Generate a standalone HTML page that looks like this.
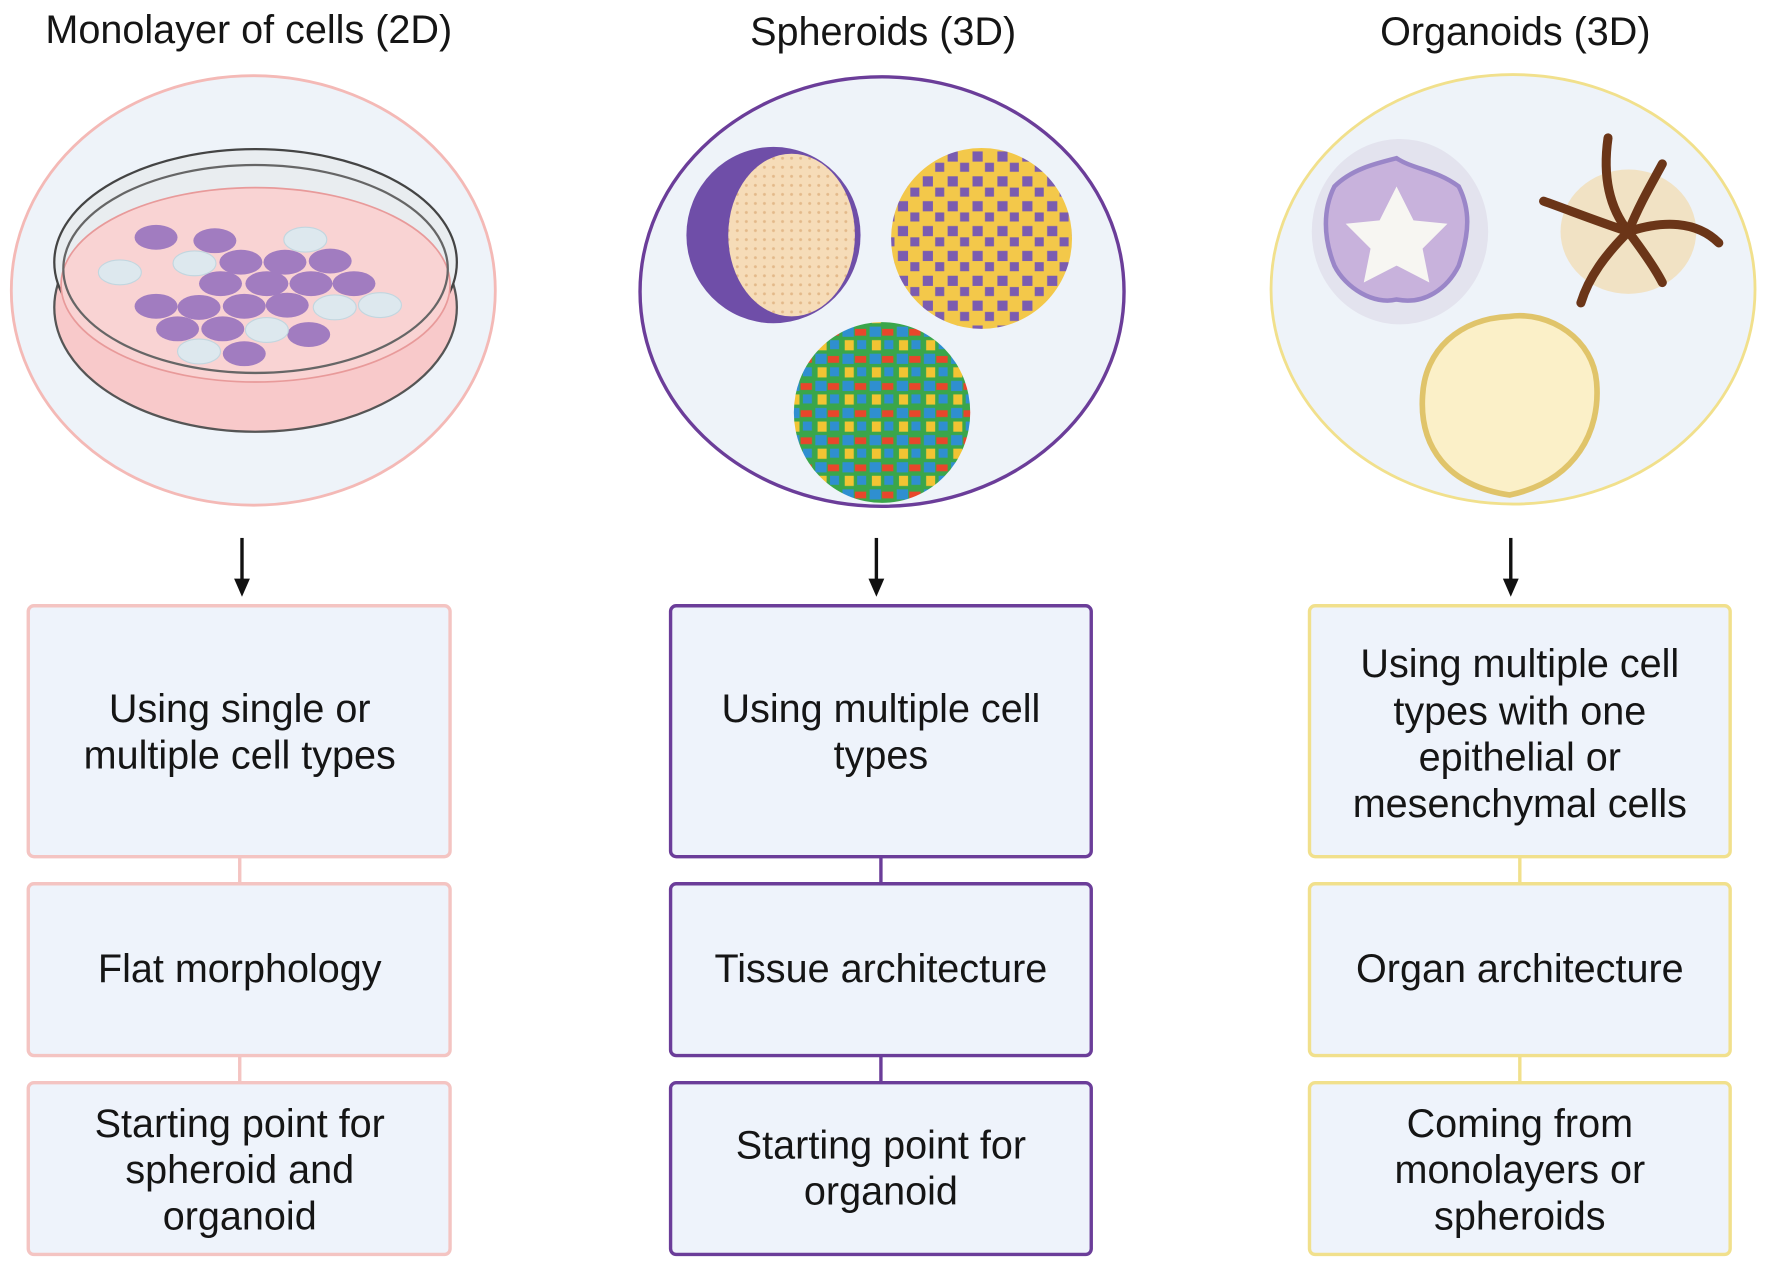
<!DOCTYPE html>
<html><head><meta charset="utf-8"><style>
html,body{margin:0;padding:0;background:#fff;}
svg{display:block;}
text{font-family:"Liberation Sans",sans-serif;fill:#151515;}
</style></head><body>
<svg width="1772" height="1268" viewBox="0 0 1567 1122" preserveAspectRatio="none" xmlns="http://www.w3.org/2000/svg">
<defs>
<pattern id="dots" width="8" height="8" patternUnits="userSpaceOnUse"><rect width="8" height="8" fill="#f6dcb8"/><circle cx="4" cy="4" r="1.3" fill="#e3b98a"/></pattern>
<pattern id="yp" width="22" height="22" patternUnits="userSpaceOnUse"><rect width="22" height="22" fill="#f3c84a"/><rect x="2" y="2" width="9" height="9" fill="#7b5cb0"/><rect x="13" y="12" width="8" height="8" fill="#7b5cb0"/></pattern>
<pattern id="mc" width="24" height="24" patternUnits="userSpaceOnUse"><rect width="24" height="24" fill="#3aa64a"/><rect x="1" y="1" width="10" height="9" fill="#2f8fd0"/><rect x="12" y="3" width="10" height="6" fill="#e8462b"/><rect x="3" y="13" width="8" height="9" fill="#f2c433"/><rect x="14" y="13" width="8" height="8" fill="#2f8fd0"/></pattern>
</defs>

<g font-size="35" text-anchor="middle">
<text x="220" y="38">Monolayer of cells (2D)</text>
<text x="781" y="40">Spheroids (3D)</text>
<text x="1340" y="40">Organoids (3D)</text>
</g>

<!-- Left circle -->
<ellipse cx="224" cy="257" rx="214" ry="190" fill="#eef3f9" stroke="#f4b9b6" stroke-width="2.5"/>
<ellipse cx="226" cy="272" rx="178" ry="110" fill="#f8c9ca" stroke="#555" stroke-width="2"/>
<ellipse cx="226" cy="232" rx="178" ry="100" fill="#e9edf0" stroke="#444" stroke-width="2"/>
<ellipse cx="226" cy="252" rx="172" ry="86" fill="#f9d3d3" stroke="#e89a9a" stroke-width="1.5"/>
<ellipse cx="226" cy="238" rx="170" ry="92" fill="none" stroke="#666" stroke-width="2"/>
<g fill="#a17cc0">
<ellipse cx="138" cy="210" rx="19" ry="11"/><ellipse cx="190" cy="213" rx="19" ry="11"/><ellipse cx="213" cy="232" rx="19" ry="11"/><ellipse cx="252" cy="232" rx="19" ry="11"/><ellipse cx="292" cy="231" rx="19" ry="11"/><ellipse cx="195" cy="251" rx="19" ry="11"/><ellipse cx="236" cy="251" rx="19" ry="11"/><ellipse cx="275" cy="251" rx="19" ry="11"/><ellipse cx="313" cy="251" rx="19" ry="11"/><ellipse cx="138" cy="271" rx="19" ry="11"/><ellipse cx="176" cy="272" rx="19" ry="11"/><ellipse cx="216" cy="271" rx="19" ry="11"/><ellipse cx="254" cy="270" rx="19" ry="11"/><ellipse cx="157" cy="291" rx="19" ry="11"/><ellipse cx="197" cy="291" rx="19" ry="11"/><ellipse cx="273" cy="296" rx="19" ry="11"/><ellipse cx="216" cy="313" rx="19" ry="11"/>
</g>
<g fill="#dde8ee" stroke="#c2d6df">
<ellipse cx="270" cy="212" rx="19" ry="11"/><ellipse cx="106" cy="241" rx="19" ry="11"/><ellipse cx="172" cy="233" rx="19" ry="11"/><ellipse cx="296" cy="272" rx="19" ry="11"/><ellipse cx="336" cy="270" rx="19" ry="11"/><ellipse cx="236" cy="292" rx="19" ry="11"/><ellipse cx="176" cy="311" rx="19" ry="11"/>
</g>

<!-- Middle circle -->
<ellipse cx="780" cy="258" rx="214" ry="190" fill="#eef3f9" stroke="#6b3d99" stroke-width="3"/>
<ellipse cx="684" cy="208" rx="77" ry="78" fill="#6f4ea8"/>
<ellipse cx="700" cy="208" rx="56" ry="72" fill="url(#dots)"/>
<circle cx="868" cy="211" r="80" fill="url(#yp)"/>
<ellipse cx="780" cy="365" rx="78" ry="80" fill="url(#mc)"/>

<!-- Right circle -->
<ellipse cx="1338" cy="256" rx="214" ry="190" fill="#eef3f9" stroke="#f1e08c" stroke-width="2.5"/>
<ellipse cx="1238" cy="205" rx="78" ry="82" fill="#e3e3ee"/>
<path d="M1235,140 C1250,150 1270,150 1290,165 C1300,185 1300,205 1290,235 C1280,255 1260,270 1235,265 C1215,270 1190,255 1180,235 C1170,210 1170,185 1180,165 C1195,150 1215,145 1235,140 z" fill="#c8b2dc" stroke="#9a86c8" stroke-width="4"/>
<path d="M1235,165 L1250,195 L1280,198 L1258,220 L1264,250 L1235,235 L1206,250 L1212,220 L1190,198 L1220,195 z" fill="#f7f6f2"/>
<ellipse cx="1440" cy="205" rx="60" ry="55" fill="#f1e2c4"/>
<g stroke="#6b3518" stroke-width="8" fill="none" stroke-linecap="round">
<path d="M1440,205 C1420,180 1418,150 1422,122"/>
<path d="M1440,205 C1450,180 1462,160 1470,145"/>
<path d="M1440,205 C1470,195 1500,195 1520,215"/>
<path d="M1440,205 C1455,225 1465,240 1470,250"/>
<path d="M1440,205 C1420,225 1405,245 1398,268"/>
<path d="M1440,205 C1410,195 1385,185 1365,178"/>
</g>
<path d="M1335,280 C1370,275 1410,300 1412,340 C1415,380 1395,425 1335,438 C1280,430 1255,395 1258,350 C1260,310 1290,282 1335,280 z" fill="#fbf0c8" stroke="#e0c46a" stroke-width="5"/>

<!-- Arrows -->
<g stroke="#111" stroke-width="3">
<line x1="214" y1="476" x2="214" y2="516"/>
<line x1="775" y1="476" x2="775" y2="516"/>
<line x1="1336" y1="476" x2="1336" y2="516"/>
</g>
<g fill="#111">
<polygon points="207,512 221,512 214,528"/>
<polygon points="768,512 782,512 775,528"/>
<polygon points="1329,512 1343,512 1336,528"/>
</g>

<!-- Connectors -->
<g stroke-width="3">
<line x1="212" y1="758" x2="212" y2="782" stroke="#f4c4c2"/><line x1="212" y1="934" x2="212" y2="958" stroke="#f4c4c2"/>
<line x1="779" y1="758" x2="779" y2="782" stroke="#6b3d99"/><line x1="779" y1="934" x2="779" y2="958" stroke="#6b3d99"/>
<line x1="1344" y1="758" x2="1344" y2="782" stroke="#f1e08c"/><line x1="1344" y1="934" x2="1344" y2="958" stroke="#f1e08c"/>
</g>

<!-- Boxes -->
<g fill="#eef3fb" stroke-width="3">
<rect x="25" y="536" width="373" height="222" rx="5" stroke="#f4c4c2"/>
<rect x="25" y="782" width="373" height="152" rx="5" stroke="#f4c4c2"/>
<rect x="25" y="958" width="373" height="152" rx="5" stroke="#f4c4c2"/>
<rect x="593" y="536" width="372" height="222" rx="5" stroke="#6b3d99"/>
<rect x="593" y="782" width="372" height="152" rx="5" stroke="#6b3d99"/>
<rect x="593" y="958" width="372" height="152" rx="5" stroke="#6b3d99"/>
<rect x="1158" y="536" width="372" height="222" rx="5" stroke="#f1e08c"/>
<rect x="1158" y="782" width="372" height="152" rx="5" stroke="#f1e08c"/>
<rect x="1158" y="958" width="372" height="152" rx="5" stroke="#f1e08c"/>
</g>

<g font-size="35" text-anchor="middle">
<text x="212" y="639">Using single or</text>
<text x="212" y="680">multiple cell types</text>
<text x="212" y="869">Flat morphology</text>
<text x="212" y="1006">Starting point for</text>
<text x="212" y="1047">spheroid and</text>
<text x="212" y="1088">organoid</text>
<text x="779" y="639">Using multiple cell</text>
<text x="779" y="680">types</text>
<text x="779" y="869">Tissue architecture</text>
<text x="779" y="1025">Starting point for</text>
<text x="779" y="1066">organoid</text>
<text x="1344" y="599">Using multiple cell</text>
<text x="1344" y="641">types with one</text>
<text x="1344" y="682">epithelial or</text>
<text x="1344" y="723">mesenchymal cells</text>
<text x="1344" y="869">Organ architecture</text>
<text x="1344" y="1006">Coming from</text>
<text x="1344" y="1047">monolayers or</text>
<text x="1344" y="1088">spheroids</text>
</g>
</svg>
</body></html>
